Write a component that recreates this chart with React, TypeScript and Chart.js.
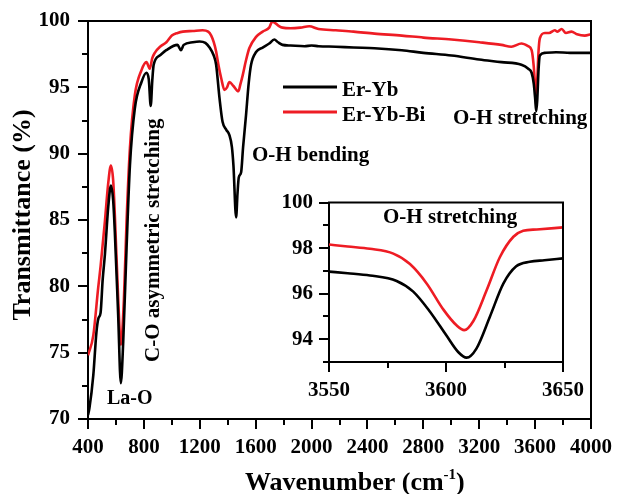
import React, { useEffect, useRef } from "react";
import { Chart, registerables } from "chart.js";

Chart.register(...registerables);

const FONT = '"Liberation Serif", "Times New Roman", Times, serif';
Chart.defaults.font.family = FONT;
Chart.defaults.font.weight = "bold" as any;
Chart.defaults.font.size = 21;
Chart.defaults.color = "#000";

// ---- Main spectrum data ----
const seriesLabels = ["Er-Yb", "Er-Yb-Bi"];
const seriesColors = ["#000000", "#ee1c24"];

const erYbWavenumbers = [
  400, 410, 438, 460, 475, 490, 505, 521, 545, 564, 580, 592, 616, 635, 652, 676, 700, 735, 783, 818,
  835, 849, 860, 870, 913, 960, 1040, 1065, 1085, 1150, 1198, 1240, 1270, 1300, 1317, 1341, 1363, 1390,
  1412, 1430, 1441, 1460, 1470, 1479, 1496, 1510, 1531, 1550, 1567, 1603, 1650, 1697, 1733, 1760, 1792,
  1850, 1950, 2000, 2050, 2173, 2300, 2450, 2646, 2800, 3002, 3200, 3359, 3502, 3551, 3575, 3590, 3600,
  3608, 3615, 3625, 3634, 3670, 3750, 3850, 4000,
];
const erYbValues = [
  70.3, 70.8, 73.3, 76.5, 77.6, 78.0, 80.5, 82.4, 86.0, 87.6, 86.5, 84.1, 77.8, 72.7, 75.8, 82.9, 89.1, 93.4, 95.4, 96.1,
  95.6, 93.6, 95.5, 96.7, 97.4, 97.8, 98.2, 97.8, 98.2, 98.4, 98.45, 98.35, 98.0, 97.4, 96.7, 94.2, 92.4, 91.8,
  91.4, 90.5, 89.1, 85.2, 87.0, 88.2, 88.6, 90.5, 92.9, 95.3, 96.7, 97.66, 98.0, 98.3, 98.6, 98.4, 98.2,
  98.15, 98.1, 98.15, 98.1, 98.06, 98.0, 97.95, 97.8, 97.6, 97.4, 97.1, 96.9, 96.7, 96.4, 96.1, 95.3, 94.2,
  93.2, 94.0, 96.4, 97.4, 97.6, 97.65, 97.6, 97.6,
];

const erYbBiWavenumbers = [
  400, 438, 473, 490, 521, 545, 564, 580, 592, 616, 635, 657, 676, 700, 735, 783, 818, 842, 860, 878,
  920, 961, 1000, 1042, 1079, 1150, 1220, 1260, 1282, 1300, 1317, 1335, 1353, 1377, 1395, 1412, 1441,
  1476, 1490, 1507, 1530, 1555, 1603, 1650, 1697, 1719, 1745, 1770, 1792, 1850, 1920, 1983, 2050, 2173,
  2300, 2450, 2646, 2800, 3002, 3200, 3359, 3430, 3502, 3550, 3575, 3590, 3600, 3608, 3615, 3625, 3634,
  3670, 3700, 3741, 3760, 3790, 3820, 3860, 3900, 3955, 4000,
];
const erYbBiValues = [
  74.8, 76.3, 79.9, 81.5, 84.9, 87.8, 89.1, 88.0, 85.4, 79.1, 75.6, 79.0, 84.9, 90.4, 94.4, 96.3, 96.9, 96.4, 97.2, 97.6,
  98.1, 98.4, 98.9, 99.1, 99.2, 99.25, 99.3, 99.2, 98.9, 98.4, 97.7, 96.6, 95.7, 94.8, 95.0, 95.4, 95.1,
  94.7, 95.2, 95.9, 97.0, 97.96, 98.8, 99.2, 99.5, 99.95, 99.8, 99.6, 99.5, 99.45, 99.5, 99.6, 99.4, 99.3,
  99.2, 99.05, 98.9, 98.75, 98.6, 98.4, 98.2, 98.06, 98.3, 98.1, 97.8, 96.6, 95.1, 94.2, 95.5, 97.8, 98.7,
  99.1, 99.1, 99.3, 99.2, 99.4, 99.1, 99.2, 99.0, 98.9, 99.0,
];

const mainXTicks = [400, 800, 1200, 1600, 2000, 2400, 2800, 3200, 3600, 4000];
const mainXMinor = [600, 1000, 1400, 1800, 2200, 2600, 3000, 3400, 3800];
const mainYTicks = [70, 75, 80, 85, 90, 95, 100];
const mainYMinor = [72.5, 77.5, 82.5, 87.5, 92.5, 97.5];

// ---- Inset (O-H stretching) data ----
const insetErYbWavenumbers = [3550, 3558, 3567.5, 3578.9, 3586, 3593, 3600.2, 3605.2, 3608.8, 3613, 3618.8, 3624.5, 3630, 3635.8, 3642, 3650];
const insetErYbValues = [96.97, 96.9, 96.8, 96.56, 96.09, 95.23, 94.16, 93.44, 93.19, 93.59, 95.0, 96.44, 97.2, 97.4, 97.47, 97.55];
const insetErYbBiWavenumbers = [3550, 3558, 3567.5, 3577.5, 3584.6, 3591.8, 3598.9, 3604.6, 3607.8, 3611.7, 3617.4, 3623, 3628.8, 3633, 3638.8, 3650];
const insetErYbBiValues = [98.16, 98.07, 97.97, 97.76, 97.3, 96.44, 95.3, 94.6, 94.4, 94.8, 96.16, 97.6, 98.5, 98.76, 98.82, 98.91];

const insetXTicks = [3550, 3600, 3650];
const insetXMinor = [3575, 3625];
const insetYTicks = [94, 96, 98, 100];
const insetYMinor = [93, 95, 97, 99];

const INSET_LEFT = 270;
const INSET_TOP = 184;

const decorPlugin = {
  id: "decor",
  afterDraw(chart: any) {
    const o = chart.options.plugins.decor;
    if (!o) return;
    const ctx = chart.ctx;
    const { left, right, top, bottom } = chart.chartArea;
    ctx.save();
    ctx.strokeStyle = "#000";
    ctx.lineWidth = 2;
    ctx.beginPath();
    ctx.moveTo(left - 1, top);
    ctx.lineTo(right, top);
    ctx.lineTo(right, bottom + 1);
    ctx.stroke();
    const xs = chart.scales.x;
    const ys = chart.scales.y;
    ctx.beginPath();
    for (const v of o.xMinor) {
      const px = Math.round(xs.getPixelForValue(v));
      ctx.moveTo(px, bottom);
      ctx.lineTo(px, bottom + o.minorLen);
    }
    for (const v of o.yMinor) {
      const py = Math.round(ys.getPixelForValue(v));
      ctx.moveTo(left - o.minorLen, py);
      ctx.lineTo(left, py);
    }
    ctx.stroke();
    ctx.fillStyle = "#000";
    ctx.textBaseline = "alphabetic";
    for (const t of o.texts || []) {
      ctx.font = `bold ${t.size}px ${FONT}`;
      ctx.textAlign = t.align || "left";
      if (t.rotate) {
        ctx.save();
        ctx.translate(t.x, t.y);
        ctx.rotate(-Math.PI / 2);
        ctx.fillText(t.text, 0, 0);
        ctx.restore();
      } else {
        ctx.fillText(t.text, t.x, t.y);
      }
    }
    if (o.legend) {
      const lg = o.legend;
      chart.data.datasets.forEach((ds: any, i: number) => {
        const y = lg.y + i * lg.gap;
        ctx.strokeStyle = ds.borderColor;
        ctx.lineWidth = 3;
        ctx.beginPath();
        ctx.moveTo(lg.x, y);
        ctx.lineTo(lg.x + lg.len, y);
        ctx.stroke();
        ctx.font = `bold ${lg.size}px ${FONT}`;
        ctx.textAlign = "left";
        ctx.fillStyle = "#000";
        ctx.fillText(ds.label, lg.x + lg.len + 5, y + lg.textDy);
      });
    }
    if (o.xTitle) {
      const t = o.xTitle;
      ctx.fillStyle = "#000";
      ctx.textAlign = "left";
      ctx.font = `bold ${t.size}px ${FONT}`;
      let x = t.x;
      ctx.fillText(t.main, x, t.y);
      x += ctx.measureText(t.main).width;
      ctx.font = `bold ${t.supSize}px ${FONT}`;
      ctx.fillText(t.sup, x, t.y - t.supRaise);
      x += ctx.measureText(t.sup).width;
      ctx.font = `bold ${t.size}px ${FONT}`;
      ctx.fillText(t.tail, x, t.y);
    }
    ctx.restore();
  },
};

const tickFont = { family: FONT, size: 21, weight: "bold" };

function axis(min: number, max: number, ticks: number[], fit: (s: any) => void, padding: number) {
  return {
    type: "linear" as const,
    min,
    max,
    afterBuildTicks: (s: any) => {
      s.ticks = ticks.map((v) => ({ value: v }));
    },
    afterFit: fit,
    ticks: {
      font: tickFont,
      color: "#000",
      padding,
      maxRotation: 0,
      autoSkip: false,
      callback: (v: any) => String(v),
    },
    grid: { drawOnChartArea: false, color: "#000", lineWidth: 2, tickLength: 10 },
    border: { color: "#000", width: 2 },
  };
}

function toPoints(xs: number[], ys: number[]) {
  return xs.map((x, i) => ({ x, y: ys[i] }));
}

function lineDataset(label: string, color: string, xs: number[], ys: number[]) {
  return {
    label,
    data: toPoints(xs, ys),
    borderColor: color,
    borderWidth: 2.6,
    pointRadius: 0,
    cubicInterpolationMode: "monotone",
    fill: false,
  };
}

export default function App() {
  const mainRef = useRef<HTMLCanvasElement | null>(null);
  const insetRef = useRef<HTMLCanvasElement | null>(null);

  useEffect(() => {
    const main = new Chart(mainRef.current as HTMLCanvasElement, {
      type: "line",
      data: {
        datasets: [
          lineDataset(seriesLabels[0], seriesColors[0], erYbWavenumbers, erYbValues),
          lineDataset(seriesLabels[1], seriesColors[1], erYbBiWavenumbers, erYbBiValues),
        ],
      },
      options: {
        responsive: false,
        animation: false,
        devicePixelRatio: 1,
        layout: { padding: { left: 0, top: 21, right: 25, bottom: 0 } },
        plugins: {
          legend: { display: false },
          tooltip: { enabled: false },
          decor: {
            xMinor: mainXMinor,
            yMinor: mainYMinor,
            minorLen: 6,
            texts: [
              { text: "La-O", x: 107, y: 404, size: 20 },
              { text: "O-H bending", x: 252, y: 161, size: 21 },
              { text: "O-H stretching", x: 453, y: 124, size: 21 },
              { text: "C-O asymmetric stretching", x: 159, y: 362, size: 21, rotate: true },
              { text: "Transmittance (%)", x: 30, y: 215, size: 26, rotate: true, align: "center" },
            ],
            legend: { x: 283, y: 87, gap: 25, len: 54, size: 21, textDy: 9 },
            xTitle: { main: "Wavenumber (cm", sup: "-1", tail: ")", x: 245, y: 490, size: 26, supSize: 15, supRaise: 11 },
          },
        } as any,
        scales: {
          x: axis(400, 4000, mainXTicks, (s: any) => { s.height = 75; }, 6),
          y: axis(70, 100, mainYTicks, (s: any) => { s.width = 88; }, 8),
        },
      },
      plugins: [decorPlugin],
    } as any);

    const inset = new Chart(insetRef.current as HTMLCanvasElement, {
      type: "line",
      data: {
        datasets: [
          lineDataset(seriesLabels[0], seriesColors[0], insetErYbWavenumbers, insetErYbValues),
          lineDataset(seriesLabels[1], seriesColors[1], insetErYbBiWavenumbers, insetErYbBiValues),
        ],
      },
      options: {
        responsive: false,
        animation: false,
        devicePixelRatio: 1,
        layout: { padding: { left: 0, top: 13, right: 37, bottom: 0 } },
        plugins: {
          legend: { display: false },
          tooltip: { enabled: false },
          decor: {
            xMinor: insetXMinor,
            yMinor: insetYMinor,
            minorLen: 6,
            texts: [{ text: "O-H stretching", x: 383 - INSET_LEFT, y: 223 - INSET_TOP, size: 21 }],
          },
        } as any,
        scales: {
          x: axis(3550, 3650, insetXTicks, (s: any) => { s.height = 44; }, 6),
          y: axis(93, 100, insetYTicks, (s: any) => { s.width = 59; }, 6),
        },
      },
      plugins: [decorPlugin],
    } as any);

    return () => {
      main.destroy();
      inset.destroy();
    };
  }, []);

  return (
    <div style={{ position: "absolute", left: 0, top: 0, width: 618, height: 494, background: "#fff" }}>
      <canvas ref={mainRef} width={618} height={494} style={{ position: "absolute", left: 0, top: 0 }} />
      <canvas
        ref={insetRef}
        width={330}
        height={222}
        style={{ position: "absolute", left: INSET_LEFT, top: INSET_TOP }}
      />
    </div>
  );
}
